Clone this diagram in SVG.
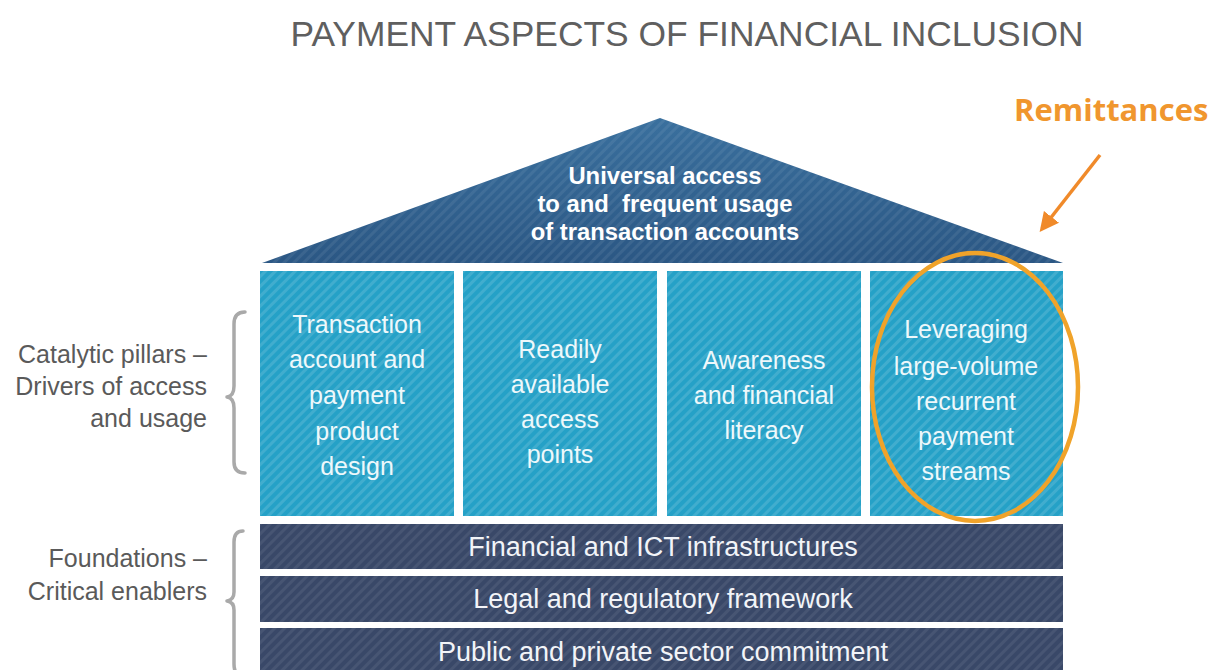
<svg xmlns="http://www.w3.org/2000/svg" width="1214" height="670" viewBox="0 0 1214 670">
  <style>
    .title { font-family: "Liberation Sans", Arial, sans-serif; font-size: 35.4px; fill: #5f5f5f; text-anchor: middle; }
    .side { font-family: "Liberation Sans", Arial, sans-serif; font-size: 25px; fill: #5a5a5a; text-anchor: end; }
    .roof-text { font-family: "Liberation Sans", Arial, sans-serif; font-size: 23.8px; font-weight: bold; fill: #ffffff; text-anchor: middle; white-space: pre; }
    .pillar { fill: #25a1c7; }
    .pillar-text { font-family: "Liberation Sans", Arial, sans-serif; font-size: 25px; fill: #eef8fb; text-anchor: middle; }
    .base { fill: #394868; }
    .base-text { font-family: "Liberation Sans", Arial, sans-serif; font-size: 27px; fill: #f2f4f8; text-anchor: middle; }
    .stripes { fill: url(#stripe); }
    .stripes-soft { fill: url(#stripeSoft); }
    .brace { fill: none; stroke: #a9a9a9; stroke-width: 3.5; stroke-linecap: round; stroke-linejoin: round; }
    .accent { font-family: "Open Sans", "DejaVu Sans", sans-serif; font-size: 31px; font-weight: bold; fill: #f0962e; }
  </style>
  <defs>
    <pattern id="stripe" width="7" height="7" patternUnits="userSpaceOnUse" patternTransform="rotate(45)">
      <rect x="0" y="0" width="3" height="7" fill="#ffffff" fill-opacity="0.13"/>
    </pattern>
    <pattern id="stripeSoft" width="7" height="7" patternUnits="userSpaceOnUse" patternTransform="rotate(45)">
      <rect x="0" y="0" width="3" height="7" fill="#ffffff" fill-opacity="0.07"/>
    </pattern>
    <linearGradient id="roofFill" x1="0" y1="0" x2="0" y2="1">
      <stop offset="0" stop-color="#3a709e"/>
      <stop offset="1" stop-color="#2b5784"/>
    </linearGradient>
    <marker id="arrowHead" viewBox="0 0 10 10" refX="8" refY="5" markerWidth="5.5" markerHeight="5.5" orient="auto" markerUnits="strokeWidth">
      <path d="M0,0 L10,5 L0,10 z" fill="#f08a2a"/>
    </marker>
  </defs>

  <rect x="0" y="0" width="1214" height="670" fill="#ffffff"/>

  <text class="title" x="687" y="46">PAYMENT ASPECTS OF FINANCIAL INCLUSION</text>

  <!-- roof -->
  <g id="roof">
    <polygon points="262,263 660,118 1063,263" fill="url(#roofFill)"/>
    <polygon points="262,263 660,118 1063,263" class="stripes-soft"/>
    <text class="roof-text" x="665" y="184">Universal access</text>
    <text class="roof-text" x="665" y="212">to and  frequent usage</text>
    <text class="roof-text" x="665" y="240">of transaction accounts</text>
  </g>

  <!-- pillars -->
  <g id="pillar-1">
    <rect class="pillar" x="260" y="271" width="194" height="245"/>
    <rect class="stripes" x="260" y="271" width="194" height="245"/>
    <text class="pillar-text" x="357" y="333">Transaction</text>
    <text class="pillar-text" x="357" y="368">account and</text>
    <text class="pillar-text" x="357" y="404">payment</text>
    <text class="pillar-text" x="357" y="440">product</text>
    <text class="pillar-text" x="357" y="475">design</text>
  </g>
  <g id="pillar-2">
    <rect class="pillar" x="463" y="271" width="194" height="245"/>
    <rect class="stripes" x="463" y="271" width="194" height="245"/>
    <text class="pillar-text" x="560" y="358">Readily</text>
    <text class="pillar-text" x="560" y="393">available</text>
    <text class="pillar-text" x="560" y="428">access</text>
    <text class="pillar-text" x="560" y="463">points</text>
  </g>
  <g id="pillar-3">
    <rect class="pillar" x="667" y="271" width="194" height="245"/>
    <rect class="stripes" x="667" y="271" width="194" height="245"/>
    <text class="pillar-text" x="764" y="369">Awareness</text>
    <text class="pillar-text" x="764" y="404">and financial</text>
    <text class="pillar-text" x="764" y="439">literacy</text>
  </g>
  <g id="pillar-4">
    <rect class="pillar" x="870" y="271" width="193" height="245"/>
    <rect class="stripes" x="870" y="271" width="193" height="245"/>
    <text class="pillar-text" x="966" y="338">Leveraging</text>
    <text class="pillar-text" x="966" y="375">large-volume</text>
    <text class="pillar-text" x="966" y="410">recurrent</text>
    <text class="pillar-text" x="966" y="445">payment</text>
    <text class="pillar-text" x="966" y="480">streams</text>
  </g>

  <!-- foundations -->
  <g id="foundation-1">
    <rect class="base" x="260" y="524" width="803" height="45"/>
    <rect class="stripes-soft" x="260" y="524" width="803" height="45"/>
    <text class="base-text" x="663" y="556">Financial and ICT infrastructures</text>
  </g>
  <g id="foundation-2">
    <rect class="base" x="260" y="576" width="803" height="46"/>
    <rect class="stripes-soft" x="260" y="576" width="803" height="46"/>
    <text class="base-text" x="663" y="608">Legal and regulatory framework</text>
  </g>
  <g id="foundation-3">
    <rect class="base" x="260" y="628" width="803" height="50"/>
    <rect class="stripes-soft" x="260" y="628" width="803" height="50"/>
    <text class="base-text" x="663" y="661">Public and private sector commitment</text>
  </g>

  <!-- side labels with braces -->
  <g id="label-pillars">
    <text class="side" x="207" y="363">Catalytic pillars –</text>
    <text class="side" x="207" y="395">Drivers of access</text>
    <text class="side" x="207" y="427">and usage</text>
    <path class="brace" d="M245,312 Q234,312 234,324 L234,386 Q234,396 227,397 Q234,398 234,408 L234,462 Q234,473 245,473"/>
  </g>
  <g id="label-foundations">
    <text class="side" x="207" y="567">Foundations –</text>
    <text class="side" x="207" y="600">Critical enablers</text>
    <path class="brace" d="M243,531 Q234,531 234,542 L234,592 Q234,600 227,601 Q234,602 234,610 L234,664 Q234,676 243,676"/>
  </g>

  <!-- highlight -->
  <g id="remittances">
    <text class="accent" x="1014" y="121">Remittances</text>
    <ellipse cx="975" cy="387" rx="103" ry="134" fill="none" stroke="#f0a32a" stroke-width="4.5"/>
  </g>

  <g id="connectors">
    <line x1="1100" y1="155" x2="1042" y2="229" stroke="#f08a2a" stroke-width="3.5" marker-end="url(#arrowHead)"/>
  </g>
</svg>
